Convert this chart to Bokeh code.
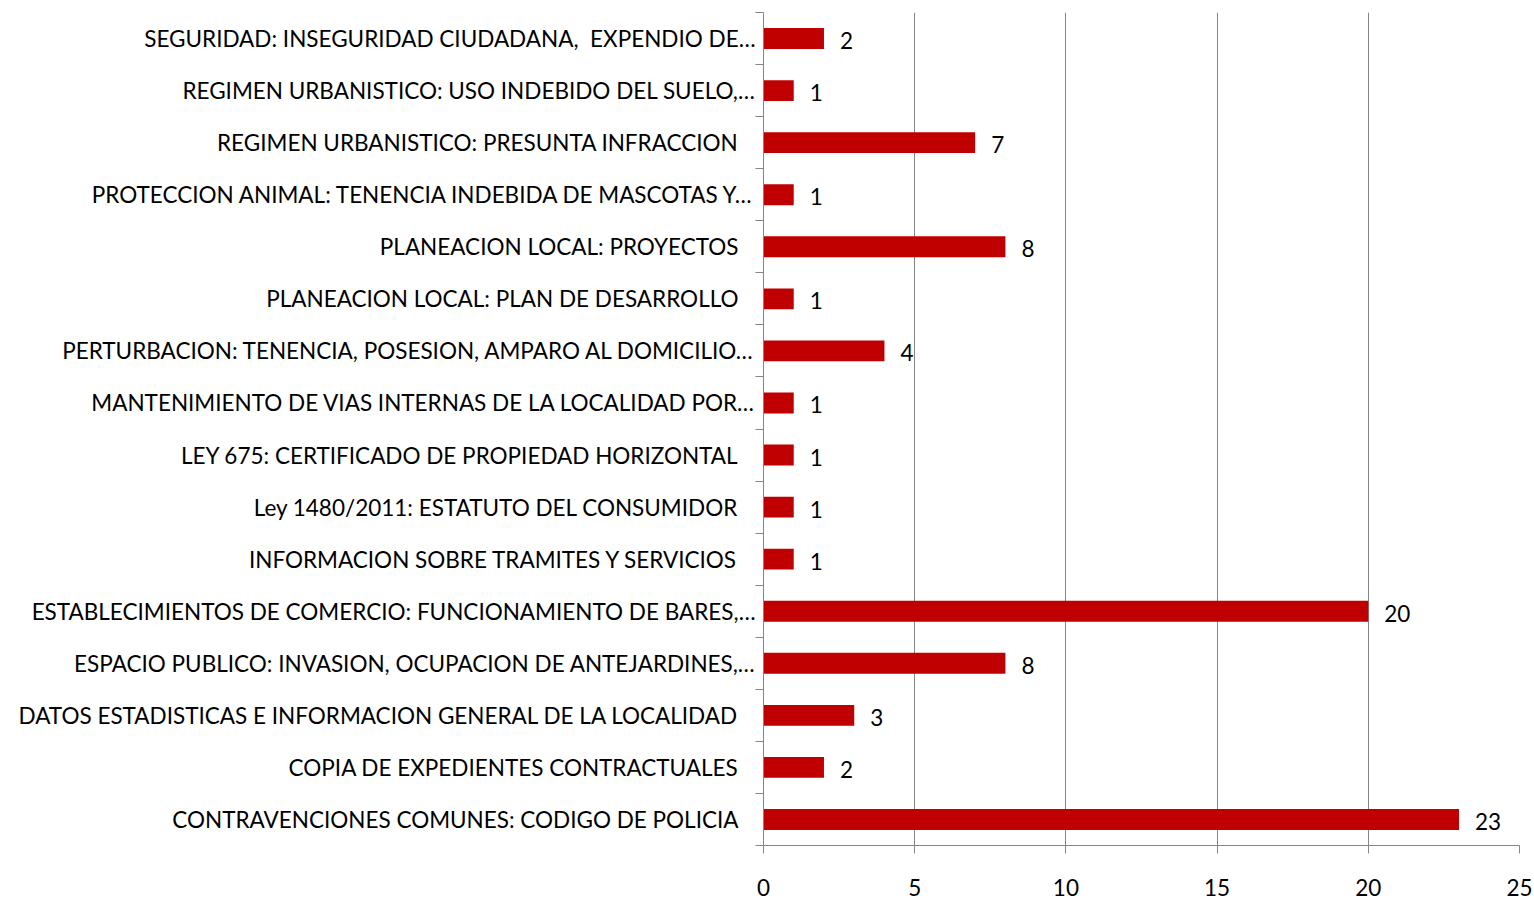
from bokeh.plotting import figure
from bokeh.models import ColumnDataSource, Range1d, FixedTicker
from bokeh.layouts import row
from bokeh.core.properties import value
from bokeh.embed import file_html
from bokeh.resources import INLINE

# bottom to top
categories = [
    "CONTRAVENCIONES COMUNES: CODIGO DE POLICIA",
    "COPIA DE EXPEDIENTES CONTRACTUALES",
    "DATOS ESTADISTICAS E INFORMACION GENERAL DE LA LOCALIDAD",
    "ESPACIO PUBLICO: INVASION, OCUPACION DE ANTEJARDINES,\u2026",
    "ESTABLECIMIENTOS DE COMERCIO: FUNCIONAMIENTO DE BARES,\u2026",
    "INFORMACION SOBRE TRAMITES Y SERVICIOS",
    "Ley 1480/2011: ESTATUTO DEL CONSUMIDOR",
    "LEY 675: CERTIFICADO DE PROPIEDAD HORIZONTAL",
    "MANTENIMIENTO DE VIAS INTERNAS DE LA LOCALIDAD POR\u2026",
    "PERTURBACION: TENENCIA, POSESION, AMPARO AL DOMICILIO\u2026",
    "PLANEACION LOCAL: PLAN DE DESARROLLO",
    "PLANEACION LOCAL: PROYECTOS",
    "PROTECCION ANIMAL: TENENCIA INDEBIDA DE MASCOTAS Y\u2026",
    "REGIMEN URBANISTICO: PRESUNTA INFRACCION",
    "REGIMEN URBANISTICO: USO INDEBIDO DEL SUELO,\u2026",
    "SEGURIDAD: INSEGURIDAD CIUDADANA,\u00a0 EXPENDIO DE\u2026",
]
values = [23, 2, 3, 8, 20, 1, 1, 1, 1, 4, 1, 8, 1, 7, 1, 2]
x_ticks = [0, 5, 10, 15, 20, 25]

FONT = "Lato"
FS = "22.5px"
GRAY = "#868686"
RED = "#C00000"

H = 899
TOP = 12
BOTTOM = 54
LEFT_W = 755

n = len(categories)
ypos = [i + 0.5 for i in range(n)]
src = ColumnDataSource(dict(y=ypos, v=values, t=[str(v) for v in values]))

# ---- label panel (left) ----
lab_x = [LEFT_W if c.endswith("\u2026") else LEFT_W - 17 for c in categories]
lab_src = ColumnDataSource(dict(x=lab_x, y=ypos, t=categories))
pl = figure(width=LEFT_W, height=H, output_backend="svg", toolbar_location=None,
            x_range=Range1d(0, LEFT_W), y_range=Range1d(0, n),
            x_axis_location=None, y_axis_location=None,
            min_border_left=0, min_border_right=0, min_border_top=TOP, min_border_bottom=BOTTOM)
pl.outline_line_color = None
pl.xgrid.grid_line_color = None
pl.ygrid.grid_line_color = None
pl.text(x="x", y="y", text="t", source=lab_src, text_align="right", text_baseline="middle",
        text_font=value(FONT), text_font_size=FS, text_color="black")

# ---- main chart ----
p = figure(width=1533 - LEFT_W, height=H, output_backend="svg", toolbar_location=None,
           x_range=Range1d(0, 25), y_range=pl.y_range,
           min_border_left=8, min_border_right=14, min_border_top=TOP, min_border_bottom=BOTTOM)
p.outline_line_color = None
p.background_fill_color = "white"

p.hbar(y="y", left=0, right="v", height=0.4, source=src, fill_color=RED, line_color=None)
p.text(x="v", y="y", text="t", source=src, x_offset=16, y_offset=2,
       text_align="left", text_baseline="middle",
       text_font=value(FONT), text_font_size=FS, text_color="black")

xa = p.xaxis[0]
xa.ticker = FixedTicker(ticks=x_ticks)
xa.axis_line_color = GRAY
xa.major_tick_line_color = GRAY
xa.major_tick_out = 8
xa.major_tick_in = 0
xa.minor_tick_line_color = None
xa.major_label_text_font = FONT
xa.major_label_text_font_size = FS
xa.major_label_text_color = "black"
xa.major_label_standoff = 25

ya = p.yaxis[0]
ya.ticker = FixedTicker(ticks=list(range(n + 1)))
ya.major_label_overrides = {i: "" for i in range(n + 1)}
ya.axis_line_color = GRAY
ya.major_tick_line_color = GRAY
ya.major_tick_out = 8
ya.major_tick_in = 0
ya.minor_tick_line_color = None
ya.major_label_text_font_size = "0px"
ya.major_label_standoff = 0

p.xgrid.ticker = FixedTicker(ticks=x_ticks)
p.xgrid.grid_line_color = GRAY
p.ygrid.grid_line_color = None

layout = row(pl, p, spacing=0)
open("out.html", "w").write(file_html(layout, INLINE))
